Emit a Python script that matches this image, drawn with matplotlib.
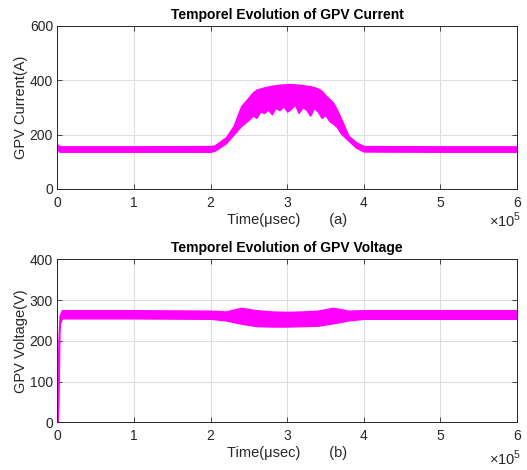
import matplotlib
matplotlib.use("Agg")
import matplotlib.pyplot as plt
from matplotlib.ticker import FuncFormatter

plt.rcParams['font.family'] = ['Liberation Sans', 'DejaVu Sans']
plt.rcParams['mathtext.fontset'] = 'custom'
plt.rcParams['mathtext.rm'] = 'Liberation Sans'

# ---- data (time in microseconds) ----
cur_t = [0, 0.02e5, 0.05e5, 1.0e5, 2.0e5, 2.05e5, 2.2e5, 2.3e5, 2.4e5, 2.5e5, 2.55e5,
         2.6e5, 2.65e5, 2.7e5, 2.75e5, 2.8e5, 2.85e5, 2.9e5, 2.95e5, 3.0e5, 3.05e5,
         3.1e5, 3.15e5, 3.2e5, 3.25e5, 3.3e5, 3.35e5, 3.4e5, 3.45e5, 3.5e5, 3.55e5,
         3.6e5, 3.65e5, 3.7e5, 3.8e5, 3.9e5, 4.0e5, 5.0e5, 6.0e5]
cur_hi = [165, 158, 157, 157, 158, 160, 190, 232, 305, 338, 355,
          366, 370, 374, 377, 380, 382, 384, 385, 386, 386,
          385, 384, 382, 380, 378, 375, 370, 362, 345, 332,
          318, 292, 262, 196, 172, 158, 157, 157]
cur_lo = [150, 138, 137, 137, 137, 140, 168, 200, 232, 255, 270,
          262, 285, 280, 292, 275, 298, 290, 305, 285, 295,
          310, 280, 300, 292, 270, 298, 285, 262, 272, 250,
          240, 228, 205, 178, 152, 138, 137, 137]

volt_t = [0, 0.005e5, 0.015e5, 0.03e5, 0.06e5, 1.0e5, 2.0e5, 2.2e5, 2.4e5, 2.6e5,
          2.8e5, 3.0e5, 3.2e5, 3.4e5, 3.6e5, 3.8e5, 4.0e5, 5.0e5, 6.0e5]
volt_hi = [0, 60, 200, 262, 275, 275, 274, 272, 281, 275,
           272, 271, 272, 274, 281, 274, 275, 275, 275]
volt_lo = [0, 0, 60, 240, 255, 255, 254, 250, 242, 236,
           235, 235, 236, 237, 243, 250, 254, 254, 254]

x_ticks = [0, 1e5, 2e5, 3e5, 4e5, 5e5, 6e5]
cur_yticks = [0, 200, 400, 600]
volt_yticks = [0, 100, 200, 300, 400]

MAG = '#FF00FF'
AXC = '#262626'
W, H = 527, 470

fig = plt.figure(figsize=(W / 100, H / 100), dpi=100)
ax1 = fig.add_axes([0.1087, 0.5979, 0.8723, 0.3468])
ax2 = fig.add_axes([0.1087, 0.1015, 0.8723, 0.3468])

def style(ax, yticks, title, ylabel, xlabel, off_y):
    ax.set_xlim(0, 6e5)
    ax.set_ylim(yticks[0], yticks[-1])
    ax.set_xticks(x_ticks)
    ax.set_yticks(yticks)
    ax.grid(True, color='#dedede', linewidth=0.8)
    ax.set_axisbelow(True)
    ax.tick_params(direction='in', top=True, right=True, length=3.5,
                   labelsize=10, colors=AXC, width=0.6, pad=5)
    ax.tick_params(axis='y', pad=3)
    for s in ax.spines.values():
        s.set_color(AXC)
        s.set_linewidth(0.7)
    ax.xaxis.set_major_formatter(FuncFormatter(lambda v, p: '%d' % round(v / 1e5)))
    ax.set_title(title, fontsize=10, fontweight='bold', pad=5)
    ax.set_ylabel(ylabel, fontsize=10.5, color=AXC, labelpad=1)
    ax.set_xlabel(xlabel, fontsize=10.5, color=AXC, labelpad=2)
    fig.text(489 / W, 1 - off_y / H, '$\\times10^{5}$', fontsize=10.5, color=AXC,
             ha='left', va='baseline')

ax1.fill_between(cur_t, cur_lo, cur_hi, color=MAG, linewidth=1.0, edgecolor=MAG)
style(ax1, cur_yticks, 'Temporel Evolution of GPV Current', 'GPV Current(A)',
      'Time(\u03bcsec)       (a)', 227)

ax2.fill_between(volt_t, volt_lo, volt_hi, color=MAG, linewidth=1.0, edgecolor=MAG)
style(ax2, volt_yticks, 'Temporel Evolution of GPV Voltage', 'GPV Voltage(V)',
      'Time(\u03bcsec)       (b)', 465)

fig.savefig('out.png', dpi=100)
